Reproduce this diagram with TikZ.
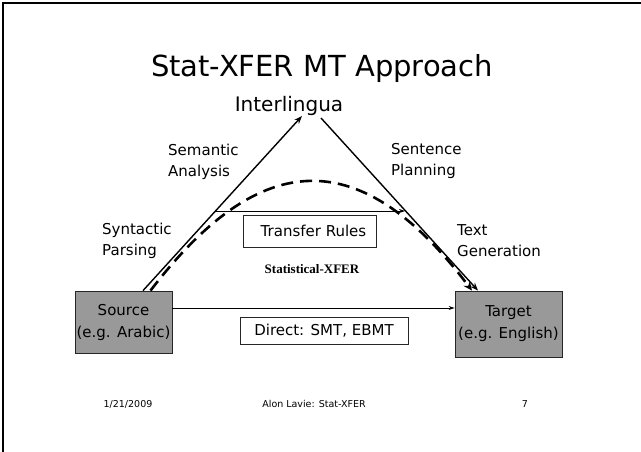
\documentclass[tikz,border=0pt]{standalone}
\usepackage{fontspec}
\setmainfont{DejaVu Sans}
\newfontfamily\serifbold{Liberation Serif}
\usetikzlibrary{arrows.meta}
\begin{document}
\begin{tikzpicture}[x=1pt,y=-1pt,
  txt/.style={inner sep=0pt,font=\fontsize{15}{21}\selectfont},
  lbl/.style={txt,align=left,anchor=west},
  langbox/.style={draw=black!85,line width=0.8pt,fill=black!40,inner sep=0pt,align=center,font=\fontsize{15}{22}\selectfont},
  rulebox/.style={draw=black!85,line width=0.7pt,inner sep=0pt,font=\fontsize{15}{18}\selectfont},
  foot/.style={inner sep=0pt,anchor=base,font=\fontsize{9.5}{11}\selectfont},
  link/.style={line width=1.4pt,-{Stealth[length=8pt,width=6pt]}},
  thin/.style={line width=0.9pt,-{Stealth[length=6pt,width=4pt]}},
  stat/.style={line width=2.6pt,dash pattern=on 12pt off 7pt,-{Stealth[length=9pt,width=8pt]}}]
\useasboundingbox (0,0) rectangle (641,452);
% slide frame
\draw[line width=1.5pt] (3,452) -- (3,3) -- (641,3);

% title and apex
\node[inner sep=0pt,anchor=base,font=\fontsize{29}{33}\selectfont] (title) at (322,77) {Stat-XFER MT Approach};
\node[inner sep=0pt,anchor=base,font=\fontsize{20}{23}\selectfont] (il) at (289,112) {Interlingua};
\coordinate (apex) at (302,116);
\coordinate (apexr) at (321,118);

% source and target
\node[langbox,minimum width=97,minimum height=62] (src) at (123.5,322) {Source\\(e.g. Arabic)};
\node[langbox,minimum width=107,minimum height=66] (tgt) at (508.5,324) {Target\\(e.g. English)};

% triangle sides
\draw[link] ([xshift=19.5pt]src.north) -- (apex);
\draw[link] (apexr) -- ([xshift=-30.5pt]tgt.north);

% statistical path
\draw[stat] ([xshift=27pt]src.north) .. controls (262,145) and (362,145) .. ([xshift=-36.5pt]tgt.north);

% transfer level
\coordinate (tl) at (215,211);
\coordinate (trt) at (405,211);
\draw[thin] (tl) -- (trt);
\node[rulebox,minimum width=133,minimum height=32] (rules) at (309.5,231) {\hspace{8pt}Transfer Rules};
\node[inner sep=0pt,anchor=base,font=\serifbold\bfseries\fontsize{13}{15}\selectfont] (sx) at (312,273) {Statistical-XFER};

% direct path
\coordinate (d0) at ([yshift=14pt]src.east);
\draw[thin] (d0) -- (d0 -| tgt.west);
\node[rulebox,minimum width=168,minimum height=27] (direct) at (324,330.5) {Direct: SMT, EBMT};

% side labels
\node[lbl] (sem) at (168,162) {Semantic\\Analysis};
\node[lbl] (syn) at (102,241) {Syntactic\\Parsing};
\node[lbl] (sen) at (391,161) {Sentence\\Planning};
\node[lbl] (gen) at (457,241) {Text\\Generation};

% footer
\node[foot] (date) at (128,407) {1/21/2009};
\node[foot] (auth) at (314,407) {Alon Lavie: Stat-XFER};
\node[foot] (page) at (525,407) {7};
\end{tikzpicture}
\end{document}
